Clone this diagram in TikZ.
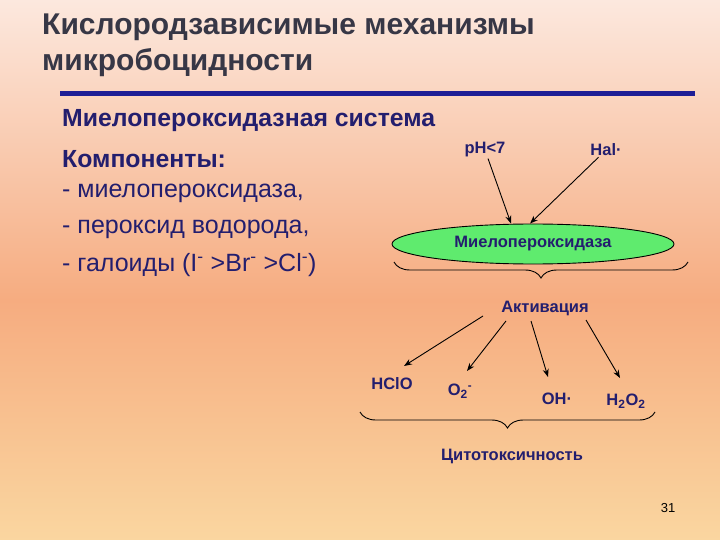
\documentclass[tikz,border=0pt]{standalone}
\usepackage{fontspec}
\setmainfont{Liberation Sans}
\usetikzlibrary{shapes.geometric,decorations.pathreplacing,arrows.meta}
\definecolor{navy}{RGB}{35,30,110}
\definecolor{titlec}{RGB}{55,55,70}
\definecolor{barc}{RGB}{30,30,150}
\definecolor{bgtop}{RGB}{252,232,222}
\definecolor{bgmid}{RGB}{246,172,128}
\definecolor{bgbot}{RGB}{250,214,160}
\definecolor{ellc}{RGB}{95,235,110}
\begin{document}
\begin{tikzpicture}[x=1pt,y=-1pt,
  lbl/.style={text=navy,font=\bfseries\fontsize{16.5}{19}\selectfont,inner sep=1pt},
  body/.style={text=navy,anchor=west,font=\fontsize{25}{28}\selectfont,inner sep=0pt},
  arr/.style={-{Stealth[length=8pt,width=6pt]},line width=0.9pt},
  brc/.style={decorate,decoration={brace,mirror,amplitude=16pt},line width=0.9pt}]
\useasboundingbox (0,0) rectangle (720,540);
\shade[top color=bgtop,bottom color=bgmid,shading angle=0] (0,0) rectangle (720,300);
\shade[top color=bgmid,bottom color=bgbot] (0,300) rectangle (720,540);
\node[anchor=west,text=titlec,font=\bfseries\fontsize{30}{36}\selectfont,align=left,inner sep=0pt] (title) at (42,45) {Кислородзависимые механизмы\\микробоцидности};
\fill[barc] (60,91) rectangle (695,96);
\node[body,font=\bfseries\fontsize{24.8}{28}\selectfont] (t1) at (62,121) {Миелопероксидазная система};
\node[body,font=\bfseries\fontsize{24.8}{28}\selectfont] (t2) at (62,159) {Компоненты:};
\node[body] (t3) at (62,193) {- миелопероксидаза,};
\node[body] (t4) at (62,229) {- пероксид водорода,};
\node[body] (t5) at (62,265) {- галоиды (I\textsuperscript{-} >Br\textsuperscript{-} >Cl\textsuperscript{-})};
\node[lbl] (ph) at (485,150) {pH<7};
\node[lbl] (hal) at (606,150) {Hal·};
\node[ellipse,draw,line width=0.9pt,fill=ellc,minimum width=282pt,minimum height=40pt,inner sep=0pt,lbl] (mpo) at (533,244) {Миелопероксидаза};
\draw[arr] (ph) -- (mpo.north -| 511,0);
\draw[arr] (hal) -- (mpo.north -| 530,0);
\coordinate (b1l) at (394,262);
\coordinate (b1r) at (688,262);
\draw[brc] (b1l) -- (b1r);
\node[lbl] (act) at (545,308) {Активация};
\node[lbl] (hclo) at (392,384) {HClO};
\node[lbl] (o2) at (460,391) {O\textsubscript{\large 2}\textsuperscript{-}};
\node[lbl] (oh) at (557,399) {OH·};
\node[lbl] (h2o2) at (626,401) {H\textsubscript{\large 2}O\textsubscript{\large 2}};
\coordinate (a1) at (483,316);\coordinate (e1) at (404,366);
\coordinate (a2) at (506,321);\coordinate (e2) at (467,371);
\coordinate (a3) at (531,321);\coordinate (e3) at (548,377);
\coordinate (a4) at (586,320);\coordinate (e4) at (620,378);
\draw[arr] (a1) -- (e1);
\draw[arr] (a2) -- (e2);
\draw[arr] (a3) -- (e3);
\draw[arr] (a4) -- (e4);
\coordinate (b2l) at (360,412);
\coordinate (b2r) at (655,412);
\draw[brc] (b2l) -- (b2r);
\node[lbl] (cyto) at (512,456) {Цитотоксичность};
\node[text=black,font=\fontsize{13}{15}\selectfont] (num) at (668,508) {31};
\end{tikzpicture}
\end{document}
